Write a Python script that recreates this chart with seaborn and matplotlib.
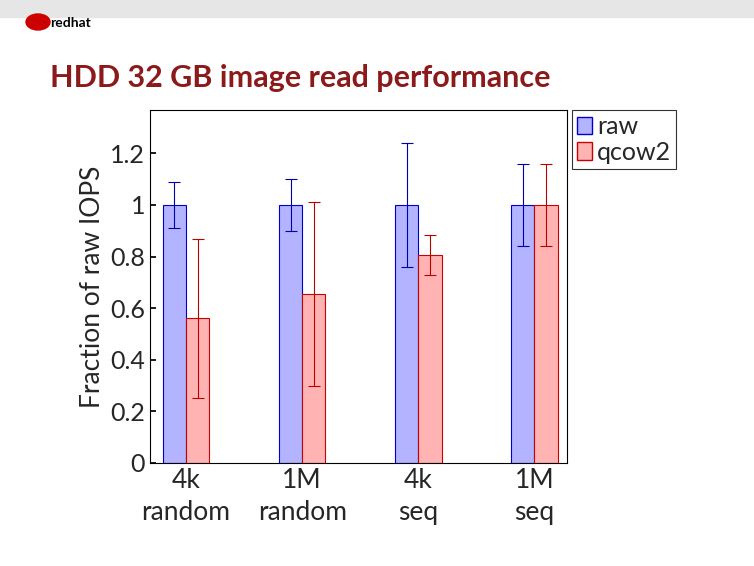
import matplotlib
matplotlib.use("Agg")
import matplotlib.pyplot as plt
from matplotlib.patches import Rectangle, Ellipse
import seaborn as sns
import pandas as pd
import numpy as np

# data
groups = ["4k\nrandom", "1M\nrandom", "4k\nseq", "1M\nseq"]
raw_vals = [1.0, 1.0, 1.0, 1.0]
raw_lo = [0.91, 0.90, 0.76, 0.84]
raw_hi = [1.09, 1.10, 1.24, 1.16]
qcow_vals = [0.56, 0.655, 0.805, 1.0]
qcow_lo = [0.25, 0.30, 0.73, 0.84]
qcow_hi = [0.87, 1.01, 0.885, 1.16]
yticks = [0, 0.2, 0.4, 0.6, 0.8, 1, 1.2]

df = pd.DataFrame({
    "group": groups * 2,
    "value": raw_vals + qcow_vals,
    "format": ["raw"] * 4 + ["qcow2"] * 4,
})

sns.set_theme(style="white")
plt.rcParams['font.family'] = ['Lato', 'DejaVu Sans']

fig = plt.figure(figsize=(7.54, 5.66), dpi=100)

# slide header: grey band + logo
fig.patches.append(Rectangle((0, 1 - 17 / 566), 1, 17 / 566, transform=fig.transFigure,
                             color="#e6e6e6", zorder=0))
fig.patches.append(Ellipse((38 / 754, 1 - 22 / 566), 24 / 754, 16 / 566,
                           transform=fig.transFigure, color="#cc0000", zorder=1))
fig.text(50 / 754, 1 - 27 / 566, "redhat", fontsize=10, fontweight="bold", color="black")
fig.text(50 / 754, 1 - 87 / 566, "HDD 32 GB image read performance",
         fontsize=22, fontweight="bold", color="#8b1a1a")

ax = fig.add_axes([150 / 754, 1 - 463 / 566, 417 / 754, 353 / 566])
sns.barplot(data=df, x="group", y="value", hue="format", ax=ax,
            palette={"raw": "#b3b3ff", "qcow2": "#ffb3b3"}, width=0.4,
            saturation=1, errorbar=None, legend=False)
edges = ["#0000cc"] * 4 + ["#cc0000"] * 4
for p, ec in zip(ax.patches, edges):
    p.set_edgecolor(ec)
    p.set_linewidth(0.8)

x = np.arange(len(groups))
v = np.array(raw_vals)
ax.errorbar(x - 0.1, v, yerr=[v - np.array(raw_lo), np.array(raw_hi) - v],
            fmt="none", ecolor="#0000aa", elinewidth=0.8, capsize=4, capthick=0.8)
v = np.array(qcow_vals)
ax.errorbar(x + 0.1, v, yerr=[v - np.array(qcow_lo), np.array(qcow_hi) - v],
            fmt="none", ecolor="#bb0000", elinewidth=0.8, capsize=4, capthick=0.8)

ax.set_xlim(-0.31, 3.28)
ax.set_ylim(0, 1.368)
ax.set_yticks(yticks)
ax.set_yticklabels([f"{t:g}" for t in yticks], fontsize=18)
ax.set_xticks(x)
ax.set_xticklabels(groups, fontsize=19, linespacing=1.35)
ax.set_xlabel("")
ax.set_ylabel("Fraction of raw IOPS", fontsize=19)
for s in ax.spines.values():
    s.set_color("black")
    s.set_linewidth(0.8)
ax.tick_params(axis="both", direction="in", length=4, color="black", left=True, bottom=True)

handles = [Rectangle((0, 0), 1, 1, facecolor="#b3b3ff", edgecolor="#0000cc"),
           Rectangle((0, 0), 1, 1, facecolor="#ffb3b3", edgecolor="#cc0000")]
leg = ax.legend(handles, ["raw", "qcow2"], loc="upper left", bbox_to_anchor=(1.012, 1.0),
                fontsize=18, frameon=True, fancybox=False, borderaxespad=0,
                handlelength=0.6, handletextpad=0.2, borderpad=0.2, labelspacing=0.1)
leg.get_frame().set_edgecolor("black")
leg.get_frame().set_linewidth(0.8)

fig.savefig("out.png", dpi=100)
